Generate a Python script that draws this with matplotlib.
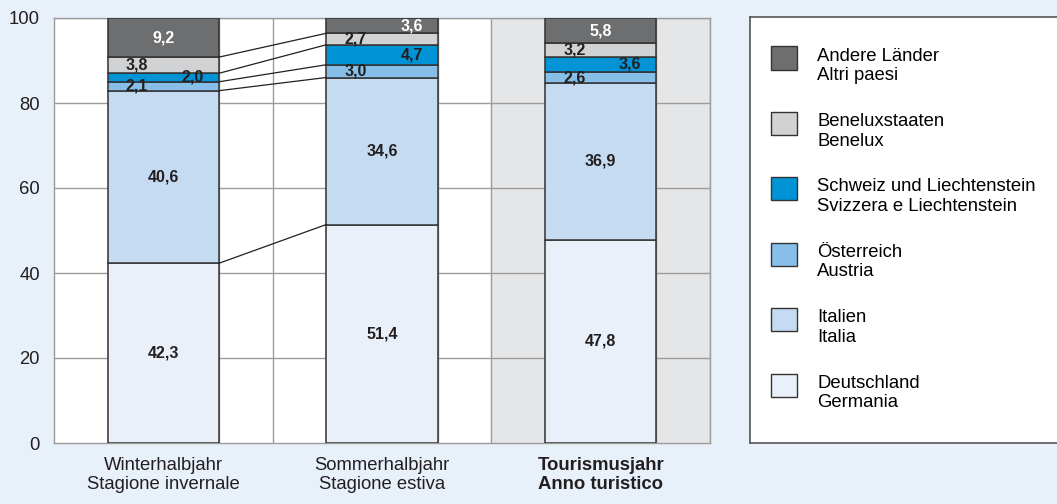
import matplotlib.pyplot as plt
import numpy as np
from matplotlib.patches import Patch, Rectangle
from matplotlib.legend_handler import HandlerPatch

plt.rcParams['font.family'] = ['Liberation Sans', 'DejaVu Sans']

periods = ["Winterhalbjahr\nStagione invernale",
           "Sommerhalbjahr\nStagione estiva",
           "Tourismusjahr\nAnno turistico"]

# stack order bottom -> top
countries = ["Deutschland\nGermania", "Italien\nItalia", "Österreich\nAustria",
             "Schweiz und Liechtenstein\nSvizzera e Liechtenstein",
             "Beneluxstaaten\nBenelux", "Andere Länder\nAltri paesi"]

deutschland = [42.3, 51.4, 47.8]
italien = [40.6, 34.6, 36.9]
oesterreich = [2.1, 3.0, 2.6]
schweiz = [2.0, 4.7, 3.6]
benelux = [3.8, 2.7, 3.2]
andere = [9.2, 3.6, 5.8]

# where the value label sits inside its segment: c = centre, l = left, r = right
label_side = [["c", "c", "c"], ["c", "c", "c"], ["l", "l", "l"],
              ["r", "r", "r"], ["l", "l", "l"], ["c", "r", "c"]]

colors = ["#E9F0FA", "#C5DBF2", "#88BFE8", "#0093D6", "#D1D2D4", "#6D6E70"]
bg = "#E8F0FA"

series = np.array([deutschland, italien, oesterreich, schweiz, benelux, andere])
x = np.arange(len(periods))
w = 0.51

fig = plt.figure(figsize=(10.57, 5.04), dpi=100, facecolor=bg)
ax = fig.add_axes([54 / 1057, 61 / 504, 656 / 1057, 425 / 504])
ax.set_facecolor("white")
ax.axvspan(1.5, 2.5, color="#E5E6E8", zorder=0)

# grid
for yv in [20, 40, 60, 80, 100]:
    ax.axhline(yv, color="#9C9C9C", lw=1, zorder=1)
for xc in x:
    for xv in [xc - w / 2, xc + w / 2, xc + 0.5]:
        ax.axvline(xv, color="#9C9C9C", lw=1, zorder=1)

bottom = np.zeros(len(periods))
offs = {"c": 0.0, "l": -0.12, "r": 0.135}
for i, vals in enumerate(series):
    ax.bar(x, vals, w, bottom=bottom, color=colors[i], edgecolor="#333333",
           lw=1.1, zorder=3)
    for j, v in enumerate(vals):
        tc = "white" if i == 5 else "#231F20"
        ax.text(x[j] + offs[label_side[i][j]], bottom[j] + v / 2,
                f"{v:.1f}".replace(".", ","), ha="center", va="center",
                fontsize=11.5, fontweight="bold", color=tc, zorder=5)
    bottom = bottom + vals

# connector lines between winter and summer bars
cum = np.cumsum(series, axis=0)
for k in range(5):
    ax.plot([x[0] + w / 2, x[1] - w / 2], [cum[k, 0], cum[k, 1]],
            color="#231F20", lw=0.9, zorder=4)

ax.set_xlim(-0.5, 2.5)
ax.set_ylim(0, 100)
ax.set_yticks([0, 20, 40, 60, 80, 100])
ax.set_xticks(x)
ax.set_xticklabels(periods, fontsize=13.3, linespacing=1.15)
ax.get_xticklabels()[2].set_fontweight("bold")
ax.tick_params(axis="y", length=0, pad=10, labelsize=13.3, colors="#231F20")
ax.tick_params(axis="x", length=0, pad=10, colors="#231F20")
for s in ax.spines.values():
    s.set_color("#9C9C9C")
    s.set_linewidth(1)

# legend box
lax = fig.add_axes([750 / 1057, 61 / 504, 320 / 1057, 426 / 504])
lax.set_facecolor("white")
lax.set_xticks([])
lax.set_yticks([])
for s in lax.spines.values():
    s.set_color("#555555")
    s.set_linewidth(1.2)


def raised_box(legend, orig_handle, xdescent, ydescent, width, height, fontsize):
    # swatch sits level with the first text line
    return Rectangle((-xdescent, -ydescent + 0.45 * fontsize), width, height)


handles = [Patch(facecolor=colors[i], edgecolor="#333333", lw=1) for i in range(6)][::-1]
lax.legend(handles, countries[::-1], loc="upper left", bbox_to_anchor=(0.0, 0.978),
           frameon=False, fontsize=13.3, labelspacing=1.56, handlelength=1.4,
           handleheight=1.55, handletextpad=1.08, borderaxespad=0.75,
           handler_map={Patch: HandlerPatch(patch_func=raised_box)})

fig.savefig("out.png", dpi=100, facecolor=bg)
